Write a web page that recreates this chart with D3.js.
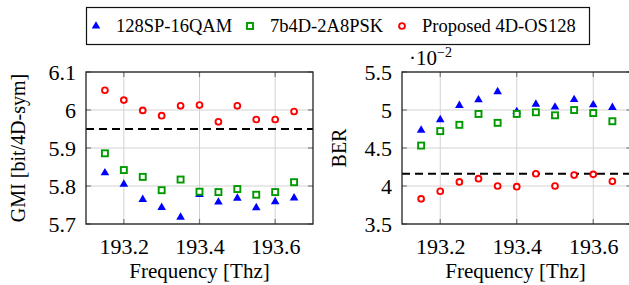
<html>
<head>
    <script src="https://d3js.org/d3.v7.min.js"></script>
    <style>
        body { margin: 0; background: #fff; }
        text { font-family: "Liberation Serif", "Times New Roman", serif; fill: #000; }
    </style>
</head>
<body>
<svg id="chart" width="629" height="285"></svg>
<script>
// data
const freqs = [193.15, 193.2, 193.25, 193.3, 193.35, 193.4, 193.45, 193.5, 193.55, 193.6, 193.65];
const seriesNames = ["128SP-16QAM", "7b4D-2A8PSK", "Proposed 4D-OS128"];

const gmiSP   = [5.835, 5.805, 5.765, 5.744, 5.718, 5.778, 5.758, 5.768, 5.743, 5.759, 5.769];
const gmi7b   = [5.886, 5.842, 5.824, 5.789, 5.817, 5.785, 5.784, 5.792, 5.777, 5.784, 5.810];
const gmiOS   = [6.052, 6.026, 5.999, 5.985, 6.011, 6.013, 5.969, 6.011, 5.975, 5.975, 5.996];
const gmiThreshold = 5.95;

const berSP   = [4.735, 4.874, 5.061, 5.135, 5.243, 4.98, 5.078, 5.040, 5.139, 5.070, 5.035];
const ber7b   = [4.532, 4.722, 4.805, 4.948, 4.831, 4.948, 4.970, 4.930, 5.000, 4.960, 4.852];
const berOS   = [3.831, 3.931, 4.053, 4.096, 4.000, 3.991, 4.161, 4.000, 4.144, 4.153, 4.062];
const berThreshold = 4.16;

const xTicks = [193.2, 193.4, 193.6];
const gmiTicks = [5.7, 5.8, 5.9, 6.0, 6.1];
const berTicks = [3.5, 4.0, 4.5, 5.0, 5.5];

const svg = d3.select("#chart");
const colors = ["#0000ff", "#009a00", "#ff0000"];
const fmt = d => String(+d.toFixed(1));
const serif = '"Liberation Serif", "Times New Roman", serif';

// marker drawing
function marker(sel, kind, cx, cy) {
    if (kind === 0) {
        sel.append("path")
            .attr("d", `M${cx},${cy - 4.8}L${cx + 4.3},${cy + 2.6}L${cx - 4.3},${cy + 2.6}Z`)
            .attr("fill", colors[0]);
    } else if (kind === 1) {
        sel.append("rect")
            .attr("x", cx - 3).attr("y", cy - 3)
            .attr("width", 6).attr("height", 6)
            .attr("fill", "white").attr("stroke", colors[1]).attr("stroke-width", 1.9);
    } else {
        sel.append("circle")
            .attr("cx", cx).attr("cy", cy).attr("r", 2.9)
            .attr("fill", "white").attr("stroke", colors[2]).attr("stroke-width", 1.9);
    }
}

function drawPanel(opts) {
    const left = opts.left, top = 72, w = opts.width, h = 152;
    const x = d3.scaleLinear().domain([193.1, 193.7]).range([left, left + w]);
    const y = d3.scaleLinear().domain(opts.yDomain).range([top + h, top]);

    const g = svg.append("g");

    // grid
    g.selectAll(".vgrid").data(xTicks).join("line")
        .attr("x1", d => x(d)).attr("x2", d => x(d))
        .attr("y1", top).attr("y2", top + h)
        .attr("stroke", "#d2d2d2").attr("stroke-width", 1);
    g.selectAll(".hgrid").data(opts.yTicks).join("line")
        .attr("x1", left).attr("x2", left + w)
        .attr("y1", d => y(d)).attr("y2", d => y(d))
        .attr("stroke", "#d2d2d2").attr("stroke-width", 1);

    // inner tick marks on all four sides
    const tl = 5;
    xTicks.forEach(t => {
        g.append("line").attr("x1", x(t)).attr("x2", x(t)).attr("y1", top + h).attr("y2", top + h - tl)
            .attr("stroke", "#7a7a7a").attr("stroke-width", 1.2);
        g.append("line").attr("x1", x(t)).attr("x2", x(t)).attr("y1", top).attr("y2", top + tl)
            .attr("stroke", "#7a7a7a").attr("stroke-width", 1.2);
    });
    opts.yTicks.forEach(t => {
        g.append("line").attr("x1", left).attr("x2", left + tl).attr("y1", y(t)).attr("y2", y(t))
            .attr("stroke", "#7a7a7a").attr("stroke-width", 1.2);
        g.append("line").attr("x1", left + w).attr("x2", left + w - tl).attr("y1", y(t)).attr("y2", y(t))
            .attr("stroke", "#7a7a7a").attr("stroke-width", 1.2);
    });

    // threshold line
    g.append("line")
        .attr("x1", left).attr("x2", left + w)
        .attr("y1", y(opts.threshold)).attr("y2", y(opts.threshold))
        .attr("stroke", "black").attr("stroke-width", 2)
        .attr("stroke-dasharray", "8,5");

    // frame
    g.append("rect")
        .attr("x", left).attr("y", top).attr("width", w).attr("height", h)
        .attr("fill", "none").attr("stroke", "#222").attr("stroke-width", 1.3);

    // tick labels via d3 axes (lines hidden)
    const xAxis = g.append("g").attr("transform", `translate(0,${top + h})`)
        .call(d3.axisBottom(x).tickValues(xTicks).tickFormat(fmt).tickSize(0).tickPadding(14));
    xAxis.select(".domain").remove();
    xAxis.selectAll("text").style("font-size", "22px").style("font-family", serif);

    const yAxis = g.append("g").attr("transform", `translate(${left},0)`)
        .call(d3.axisLeft(y).tickValues(opts.yTicks).tickFormat(fmt).tickSize(0).tickPadding(10));
    yAxis.select(".domain").remove();
    yAxis.selectAll("text").style("font-size", "22px").style("font-family", serif);

    // series
    opts.series.forEach((vals, k) => {
        const sg = g.append("g");
        vals.forEach((v, i) => marker(sg, k, x(freqs[i]), y(v)));
    });

    // axis titles
    g.append("text")
        .attr("x", left + 227 / 2).attr("y", 278)
        .attr("text-anchor", "middle").attr("font-size", 21)
        .text("Frequency [Thz]");
    g.append("text")
        .attr("transform", `translate(${opts.yLabelX},${top + h / 2}) rotate(-90)`)
        .attr("text-anchor", "middle").attr("font-size", 20)
        .text(opts.yLabel);

    return g;
}

drawPanel({
    left: 86, width: 227, yDomain: [5.7, 6.1], yTicks: gmiTicks, threshold: gmiThreshold,
    series: [gmiSP, gmi7b, gmiOS], yLabel: "GMI [bit/4D-sym]", yLabelX: 25
});

const right = drawPanel({
    left: 402, width: 229.5, yDomain: [3.5, 5.5], yTicks: berTicks, threshold: berThreshold,
    series: [berSP, ber7b, berOS], yLabel: "BER", yLabelX: 346
});

// scale factor label
const sc = right.append("text").attr("x", 409).attr("y", 65).attr("font-size", 21);
sc.append("tspan").text("\u00b710");
sc.append("tspan").attr("dy", -8).attr("font-size", 14).text("\u22122");

// legend
const legend = svg.append("g");
legend.append("rect")
    .attr("x", 86.5).attr("y", 7.5).attr("width", 503).attr("height", 37)
    .attr("fill", "white").attr("stroke", "#111").attr("stroke-width", 1.2);
const legX = [96, 250, 402];
seriesNames.forEach((name, k) => {
    marker(legend, k, legX[k], 26);
    legend.append("text")
        .attr("x", legX[k] + 20).attr("y", 32)
        .attr("font-size", 18.5)
        .text(name);
});
</script>
</body>
</html>
